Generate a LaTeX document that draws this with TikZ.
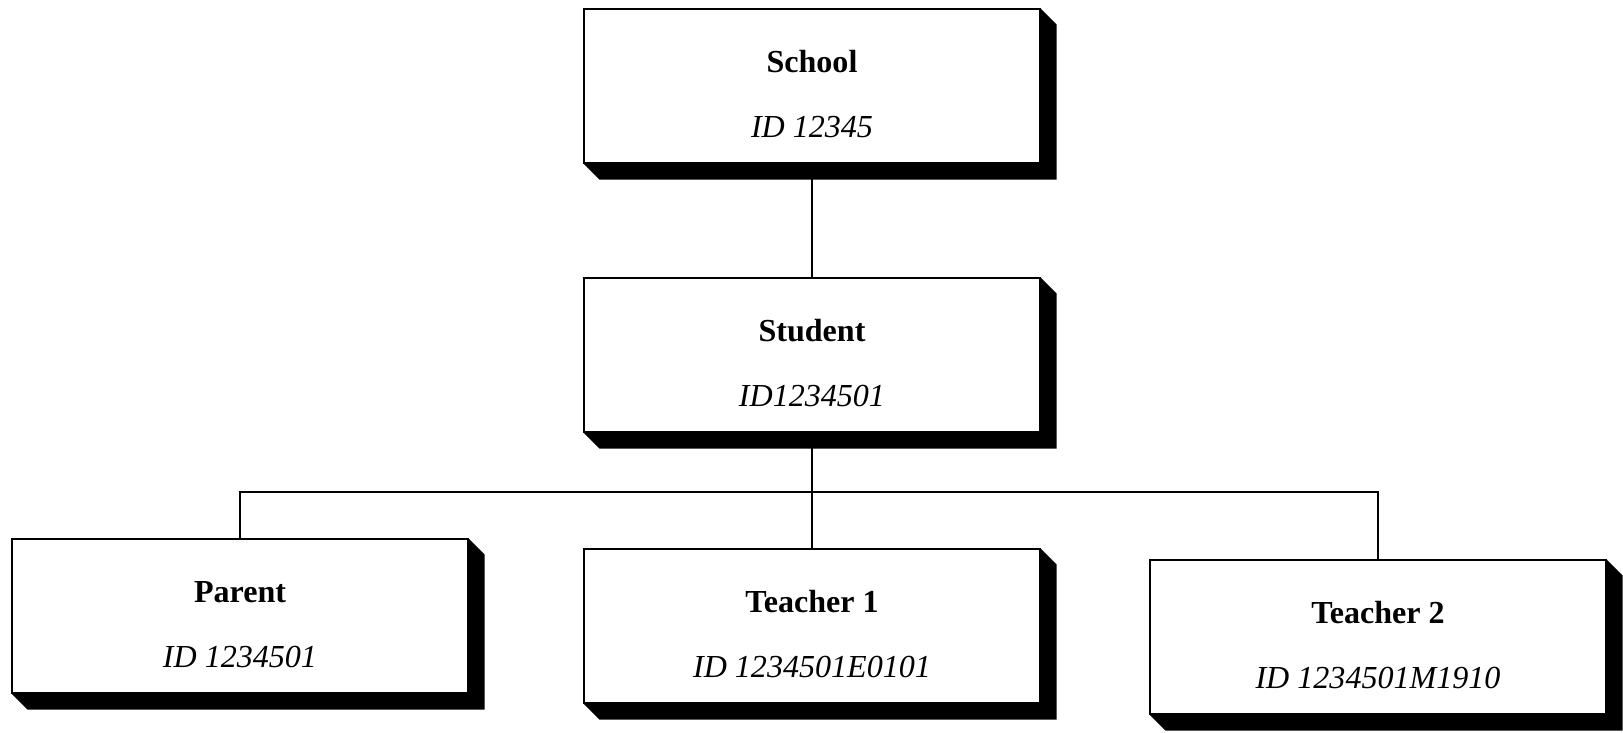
\documentclass[tikz,border=0pt]{standalone}
\usepackage{fontspec}
\setmainfont{Liberation Serif}
\usetikzlibrary{calc}
\tikzset{idbox/.style={draw, line width=0.5mm, fill=white, minimum width=11.375cm, minimum height=3.825cm, inner sep=0pt, align=center, font=\fontsize{22.8}{27}\selectfont}}
\def\boxshade(#1){\fill[black] (#1.north east) -- ++(16,16) -- ($(#1.south east)+(16,16)$) -- ($(#1.south west)+(16,16)$) -- (#1.south west) -- (#1.south east) -- cycle;}

\begin{document}
\begin{tikzpicture}[x=0.025cm, y=-0.025cm]
			%%%%% START %%%%%
			\useasboundingbox (0, 0) rectangle (1623, 732);
			
			\node[idbox] (school) at (812, 86) {\rule{0pt}{27pt}\textbf{School}\\[19pt]\textit{ID 12345}};
			\boxshade(school);
			
			\node[idbox] (student) at (812, 355) {\rule{0pt}{27pt}\textbf{Student}\\[19pt]\textit{ID1234501}};
			\boxshade(student);
			
			\node[idbox] (parent) at (240, 616) {\rule{0pt}{27pt}\textbf{Parent}\\[19pt]\textit{ID 1234501}};
			\boxshade(parent);
			\node[idbox] (teacherone) at (812, 626) {\rule{0pt}{27pt}\textbf{Teacher 1}\\[19pt]\textit{ID 1234501E0101}};
			\boxshade(teacherone);
			\node[idbox] (teachertwo) at (1378, 637) {\rule{0pt}{27pt}\textbf{Teacher 2}\\[19pt]\textit{ID 1234501M1910}};
			\boxshade(teachertwo);
			
			\coordinate (bus) at (812, 492);
			
			\draw[line width=0.5mm] (school) -- (student);
			\draw[line width=0.5mm] (student) -- (teacherone);
			\draw[line width=0.5mm] (parent.north) |- (bus) -| (teachertwo.north);
			
			%%%%% END %%%%%
\end{tikzpicture}
\end{document}
